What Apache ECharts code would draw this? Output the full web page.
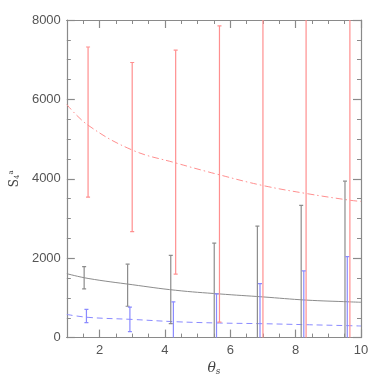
<!DOCTYPE html>
<html><head><meta charset="utf-8">
<script src="https://cdn.jsdelivr.net/npm/echarts@6/dist/echarts.min.js"></script>
<style>html,body{margin:0;padding:0;background:#fff}#c{width:381px;height:381px}</style>
</head><body><div id="c"></div>
<script>
// Error bars: x positions, lower, upper
const redX  = [1.65, 3.0, 4.33, 5.67, 7.0, 8.32, 9.66];
const redLo = [3540, 2670, 1600, 390, -500, -500, -500];
const redHi = [7320, 6930, 7240, 7850, 9500, 9500, 9500];
const blkX  = [1.53, 2.86, 4.18, 5.51, 6.83, 8.17, 9.51];
const blkLo = [1225, 790, 350, -500, -500, -500, -500];
const blkHi = [1790, 1850, 2070, 2380, 2810, 3330, 3940];
const bluX  = [1.60, 2.93, 4.26, 5.58, 6.91, 8.25, 9.58];
const bluLo = [375, 150, -500, -500, -500, -500, -500];
const bluHi = [710, 770, 900, 1100, 1360, 1680, 2040];
// Model curves
const curveX   = [1, 1.65, 3.0, 4.33, 5.67, 7.0, 8.32, 9.66, 10];
const redCurve = [5870, 5350, 4725, 4400, 4100, 3830, 3630, 3460, 3430];
const blkCurve = [1610, 1490, 1333, 1192, 1100, 1025, 945, 900, 890];
const bluCurve = [583, 510, 458, 400, 367, 350, 325, 300, 292];
const xMajor = [2, 4, 6, 8, 10];

const C_RED = '#ff8f8f', C_BLK = '#8c8c8c', C_BLU = '#8a8aff', C_AX = '#8a8a8a';

function errSeries(xs, lo, hi, color) {
  return {
    type: 'custom', xAxisIndex: 0, yAxisIndex: 0, clip: true, z: 3,
    data: xs.map((x, i) => [x, lo[i], hi[i]]),
    renderItem: function (params, api) {
      const pLo = api.coord([api.value(0), api.value(1)]);
      const pHi = api.coord([api.value(0), api.value(2)]);
      const w = 2;
      const st = { stroke: color, lineWidth: 1.2 };
      return { type: 'group', children: [
        { type: 'line', shape: { x1: pLo[0], y1: pLo[1], x2: pHi[0], y2: pHi[1] }, style: st },
        { type: 'line', shape: { x1: pLo[0] - w, y1: pLo[1], x2: pLo[0] + w, y2: pLo[1] }, style: st },
        { type: 'line', shape: { x1: pHi[0] - w, y1: pHi[1], x2: pHi[0] + w, y2: pHi[1] }, style: st }
      ]};
    }
  };
}
function curve(ys, color, type) {
  return { type: 'line', xAxisIndex: 0, yAxisIndex: 0, smooth: 0.4, symbol: 'none', z: 2,
    data: curveX.map((x, i) => [x, ys[i]]), lineStyle: { color: color, width: 1, type: type } };
}
const axLine = { show: true, lineStyle: { color: C_AX, width: 1.2 } };
function xAx(pos, major, labels) {
  const a = { type: 'value', min: 1, max: 10, position: pos, axisLine: axLine, splitLine: { show: false } };
  if (major) {
    a.interval = 1;
    a.axisTick = { show: true, inside: true, length: 8, customValues: xMajor, lineStyle: { color: C_AX, width: 1.2 } };
    a.axisLabel = labels ? { show: true, customValues: xMajor, color: '#555', fontSize: 13, fontFamily: 'Liberation Sans', margin: 6 } : { show: false };
    if (labels) {
      a.name = '{t|θ}{s|s}';
      a.nameLocation = 'middle'; a.nameGap = 22;
      a.nameTextStyle = { rich: { t: { fontFamily: 'DejaVu Serif', fontStyle: 'italic', fontSize: 14, color: '#444' },
        s: { fontFamily: 'DejaVu Serif', fontStyle: 'italic', fontSize: 9, color: '#444', verticalAlign: 'bottom', padding: [6, 0, 0, 0] } } };
    }
  } else {
    a.interval = 0.5;
    a.axisTick = { show: true, inside: true, length: 4, lineStyle: { color: C_AX, width: 1 } };
    a.axisLabel = { show: false };
  }
  return a;
}
function yAx(pos, labels) {
  const a = { type: 'value', min: 0, max: 8000, interval: 2000, position: pos, axisLine: axLine,
    splitLine: { show: false },
    axisTick: { show: true, inside: true, length: 8, lineStyle: { color: C_AX, width: 1.2 } },
    minorTick: { show: true, splitNumber: 4, length: 4, lineStyle: { color: C_AX, width: 1 } },
    axisLabel: labels ? { show: true, color: '#555', fontSize: 13, fontFamily: 'Liberation Sans', margin: 6,
      formatter: v => String(v) } : { show: false } };
  if (labels) {
    a.name = '{s|S}{b|4}{p|a}';
    a.nameLocation = 'middle'; a.nameGap = 44; a.nameRotate = 90;
    a.nameTextStyle = { rich: {
      s: { fontFamily: 'DejaVu Serif', fontSize: 12, color: '#444' },
      b: { fontFamily: 'DejaVu Serif', fontSize: 7, color: '#444', padding: [5, 0, 0, 0] },
      p: { fontFamily: 'DejaVu Serif', fontSize: 7, color: '#444', padding: [0, 0, 7, 0] } } };
  }
  return a;
}
const chart = echarts.init(document.getElementById('c'), null, { renderer: 'canvas' });
chart.setOption({
  animation: false,
  backgroundColor: '#fff',
  grid: { left: 58, right: 20, top: 20, bottom: 41 },
  xAxis: [xAx('bottom', true, true), xAx('bottom', false), xAx('top', true, false), xAx('top', false)],
  yAxis: [yAx('left', true), yAx('right', false)],
  series: [
    curve(redCurve, C_RED, [7, 3, 1.5, 3]),
    curve(blkCurve, C_BLK, 'solid'),
    curve(bluCurve, C_BLU, [6, 4]),
    errSeries(redX, redLo, redHi, C_RED),
    errSeries(blkX, blkLo, blkHi, C_BLK),
    errSeries(bluX, bluLo, bluHi, C_BLU)
  ]
});
</script></body></html>
